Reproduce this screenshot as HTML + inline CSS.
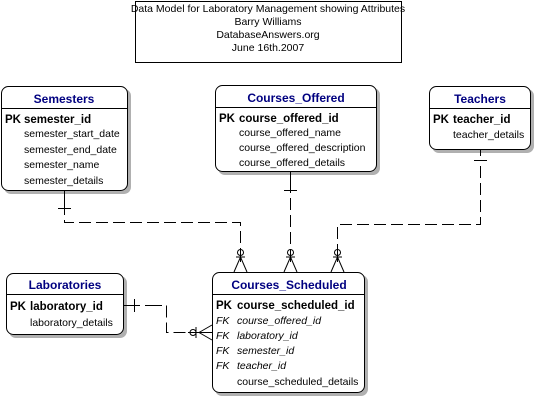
<!DOCTYPE html>
<html><head><meta charset="utf-8"><style>
body{margin:0;background:#fff;width:536px;height:400px;overflow:hidden}
svg text{font-family:"Liberation Sans",Arial,sans-serif}
</style></head><body>
<svg width="536" height="400" xmlns="http://www.w3.org/2000/svg">
<rect x="135.5" y="1.5" width="266" height="61" fill="#fff" stroke="#000"/>
<g font-size="10.5" text-anchor="middle" fill="#000">
<text x="268" y="12">Data Model for Laboratory Management  showing Attributes</text>
<text x="268" y="25">Barry Williams</text>
<text x="268" y="38">DatabaseAnswers.org</text>
<text x="268" y="51">June 16th.2007</text>
</g>
<g fill="#b0b0b0">
<rect x="4" y="89" width="127" height="105" rx="7"/>
<rect x="218" y="88" width="162" height="87" rx="7"/>
<rect x="432" y="89" width="102" height="64" rx="7"/>
<rect x="9" y="276" width="118" height="62" rx="7"/>
<rect x="215" y="275" width="153" height="121" rx="7"/>
</g>
<g fill="#fff" stroke="#000">
<rect x="1.5" y="86.5" width="126" height="104" rx="7"/>
<rect x="215.5" y="85.5" width="161" height="86" rx="7"/>
<rect x="429.5" y="86.5" width="101" height="63" rx="7"/>
<rect x="6.5" y="273.5" width="117" height="61" rx="7"/>
<rect x="212.5" y="272.5" width="152" height="120" rx="7"/>
<line x1="1.5" y1="108.5" x2="127.5" y2="108.5"/>
<line x1="215.5" y1="107.5" x2="376.5" y2="107.5"/>
<line x1="429.5" y1="108.5" x2="530.5" y2="108.5"/>
<line x1="6.5" y1="294.5" x2="123.5" y2="294.5"/>
<line x1="212.5" y1="294.5" x2="364.5" y2="294.5"/>
</g>
<g font-size="12" font-weight="bold" fill="#000080" text-anchor="middle">
<text x="64" y="103">Semesters</text>
<text x="296" y="102">Courses_Offered</text>
<text x="480" y="103">Teachers</text>
<text x="65" y="289">Laboratories</text>
<text x="289" y="289">Courses_Scheduled</text>
</g>
<g font-size="11.5" font-weight="bold" fill="#000">
<text x="5" y="123">PK</text><text x="24" y="123">semester_id</text>
<text x="219" y="122">PK</text><text x="239" y="122">course_offered_id</text>
<text x="433" y="123">PK</text><text x="453" y="123">teacher_id</text>
<text x="10" y="310">PK</text><text x="30" y="310">laboratory_id</text>
<text x="216" y="309">PK</text><text x="237" y="309">course_scheduled_id</text>
</g>
<g font-size="10.5" fill="#000">
<text x="24" y="137">semester_start_date</text>
<text x="24" y="153">semester_end_date</text>
<text x="24" y="168">semester_name</text>
<text x="24" y="184">semester_details</text>
<text x="239" y="136">course_offered_name</text>
<text x="239" y="151">course_offered_description</text>
<text x="239" y="166">course_offered_details</text>
<text x="453" y="138">teacher_details</text>
<text x="30" y="326">laboratory_details</text>
<text x="237" y="385">course_scheduled_details</text>
</g>
<g font-size="10.5" fill="#000" font-style="italic">
<text x="216" y="324">FK</text><text x="237" y="324">course_offered_id</text>
<text x="216" y="339">FK</text><text x="237" y="339">laboratory_id</text>
<text x="216" y="354">FK</text><text x="237" y="354">semester_id</text>
<text x="216" y="369">FK</text><text x="237" y="369">teacher_id</text>
</g>
<g stroke="#000" fill="none" stroke-width="1">
<path d="M64.5 191V203" />
<path d="M64.5 203V222.5H240.5V250" stroke-dasharray="12,5"/>
<path d="M58 208.5H71"/>
<path d="M290.5 172V181"/>
<path d="M290.5 181V250" stroke-dasharray="12,5"/>
<path d="M284 190.5H297"/>
<path d="M480.5 150V156"/>
<path d="M480.5 166V224.5H337.5V250" stroke-dasharray="12,5"/>
<path d="M474 160.5H487"/>
<path d="M124 305.5H140"/>
<path d="M134.5 299V312"/>
<path d="M145 305.5H162"/>
<path d="M166.5 305.5V332.5H188" stroke-dasharray="12,5"/>
<path d="M188 332.5H212"/>
<circle cx="193" cy="332.5" r="3"/>
<path d="M199 332.5L212 325M199 332.5L212 340M196 327V338"/>
<circle cx="240.5" cy="252.5" r="3"/><path d="M240.5 250V262M234 272L240.5 257L247 272M236 257H245"/>
<circle cx="290.5" cy="252.5" r="3"/><path d="M290.5 250V262M284 272L290.5 257L297 272M286 257H295"/>
<circle cx="337.5" cy="252.5" r="3"/><path d="M337.5 250V262M331 272L337.5 257L344 272M333 257H342"/>
</g>
</svg>
</body></html>
